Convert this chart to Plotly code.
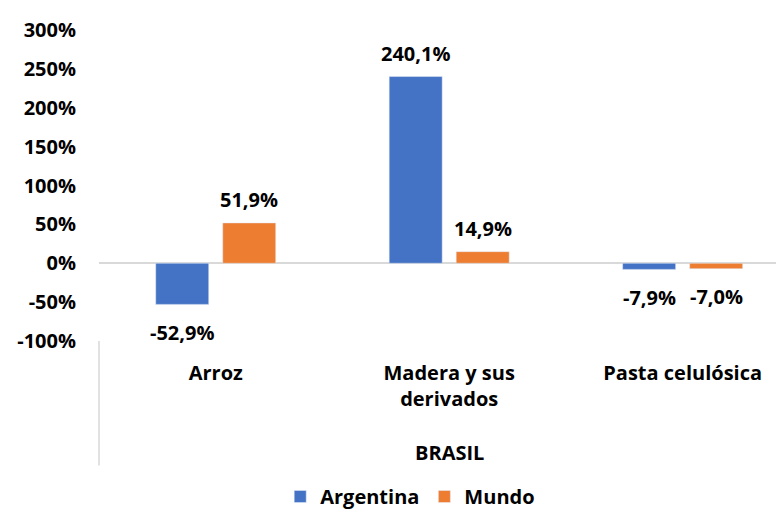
import plotly.graph_objects as go

categories = ["Arroz", "Madera y sus<br>derivados", "Pasta celulósica"]
argentina = [-52.9, 240.1, -7.9]
mundo = [51.9, 14.9, -7.0]
y_ticks = [-100, -50, 0, 50, 100, 150, 200, 250, 300]
y_tick_labels = [f"{v}%" for v in y_ticks]
group_label = "BRASIL"

FONT = dict(family="Open Sans", size=20, color="#000000", weight="bold")


def fmt(v):
    return f"{v:.1f}%".replace(".", ",")


fig = go.Figure()
fig.add_trace(go.Bar(name="Argentina", x=categories, y=argentina,
                     marker=dict(color="#4472C4")))
fig.add_trace(go.Bar(name="Mundo", x=categories, y=mundo,
                     marker=dict(color="#ED7D31")))

annotations = []
for series, shift in ((argentina, -33.5), (mundo, 33.5)):
    for cat, v in zip(categories, series):
        annotations.append(dict(
            x=cat, y=v, xref="x", yref="y", text=fmt(v), showarrow=False,
            xanchor="center", yanchor="middle", xshift=shift,
            yshift=23 if v >= 0 else -28, font=FONT))
# group label centred under the middle of the category span
annotations.append(dict(text=group_label, xref="x", yref="paper",
                        x=categories[1], y=-0.36, xanchor="center", yanchor="middle",
                        showarrow=False, font=FONT))

fig.update_layout(
    width=776, height=502,
    margin=dict(l=91, r=4, t=22, b=169, autoexpand=False),
    paper_bgcolor="white", plot_bgcolor="white",
    font=FONT,
    barmode="group", bargap=0.426, bargroupgap=0.209,
    showlegend=True,
    legend=dict(orientation="h", x=0.457, xanchor="center", y=-0.50, yanchor="middle",
                font=FONT, itemwidth=30, traceorder="normal"),
    xaxis=dict(showline=False, showgrid=False, ticks="", tickfont=FONT,
               range=[-0.5, 2.417],
               ticklabelstandoff=18, automargin=False),
    yaxis=dict(range=[-100, 300], tickvals=y_ticks, ticktext=y_tick_labels,
               showgrid=False, showline=False, ticks="",
               zeroline=True, zerolinecolor="#D9D9D9", zerolinewidth=1.5,
               tickfont=FONT, ticklabelstandoff=22, automargin=False),
    annotations=annotations,
    shapes=[dict(type="line", xref="paper", yref="paper", x0=0, x1=0,
                 y0=0, y1=-0.40, line=dict(color="#D9D9D9", width=1.5))],
)

fig.write_html("out.html")
